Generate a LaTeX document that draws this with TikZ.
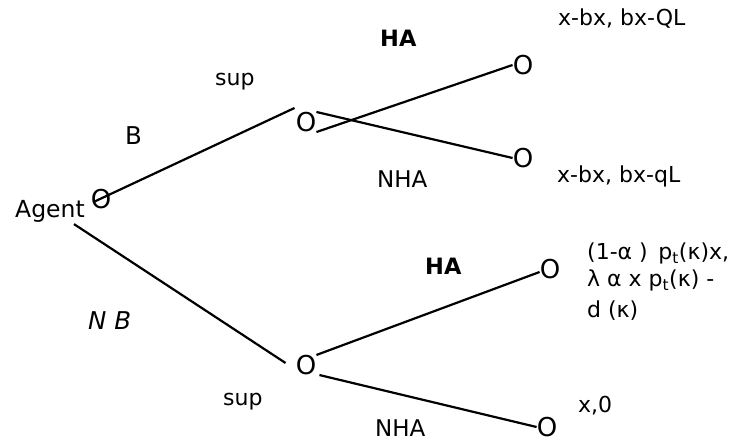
\documentclass[tikz,border=0pt]{standalone}
\usepackage{fontspec}
\setmainfont{DejaVu Sans}

\begin{document}
\begin{tikzpicture}[x=1pt,y=-1pt,
            choice/.style={inner sep=0pt,font=\fontsize{26}{26}\selectfont},
            lab/.style={inner sep=0pt,anchor=base west,font=\fontsize{23}{23}\selectfont},
            act/.style={lab,font=\bfseries\fontsize{22.5}{22.5}\selectfont},
            pay/.style={lab,font=\fontsize{22}{22}\selectfont},
            branch/.style={line width=2.2pt}]
            \useasboundingbox (0,0) rectangle (735,441);

            \node[lab,font=\fontsize{23.5}{23.5}\selectfont] (agent) at (15,217) {Agent};
            \node[choice] (a0) at (101,199) {O};
            \node[choice] (u) at (306,122) {O};
            \node[choice] (l) at (306,365) {O};
            \node[choice] (uh) at (523,65) {O};
            \node[choice] (un) at (523,158) {O};
            \node[choice] (lh) at (550,269) {O};
            \node[choice] (ln) at (547,427) {O};

            \node[lab,font=\fontsize{24.5}{24.5}\selectfont] (b) at (125,144) {B};
            \node[lab,font=\itshape\fontsize{24.5}{24.5}\selectfont] (nb) at (88,329) {N B};
            \node[lab,font=\fontsize{22}{22}\selectfont] (usup) at (215,86) {sup};
            \node[lab,font=\fontsize{22}{22}\selectfont] (lsup) at (223,405) {sup};

            \node[act] (uha) at (380,47) {HA};
            \node[lab] (unha) at (377,187) {NHA};
            \node[act] (lha) at (425,274) {HA};
            \node[lab] (lnha) at (375,436) {NHA};

            \node[pay] (puh) at (558,26) {x-bx, bx-QL};
            \node[pay] (pun) at (557,182) {x-bx, bx-qL};
            \node[pay,anchor=north west,align=left] (plh) at (587,243)
                {(1-α )\, p\textsubscript{t}(κ)x,\\[5pt] λ α x p\textsubscript{t}(κ) -\\[9pt] d (κ)};
            \node[pay] (pln) at (578,412) {x,0};

            \draw[branch] ([shift={(3,3)}]a0.west) -- ([shift={(-1,-4)}]u.north west);
            \draw[branch] ([shift={(-11,2)}]agent.south east) -- ([shift={(-10,-2)}]l.west);
            \draw[branch] (u.south east) -- (uh.west);
            \draw[branch] (u.north east) -- (un.west);
            \draw[branch] (l.north east) -- ([yshift=-3pt]lh.west);
            \draw[branch] ([shift={(3,0)}]l.south east) -- (ln.west);
      \end{tikzpicture}
\end{document}
